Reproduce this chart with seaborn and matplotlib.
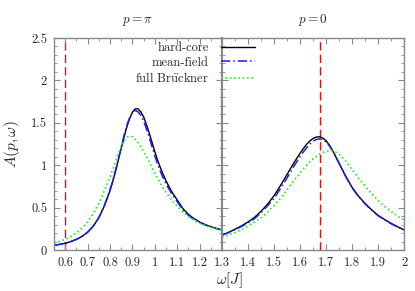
import matplotlib
matplotlib.use("Agg")
import matplotlib.pyplot as plt
import matplotlib.ticker as mticker
import seaborn as sns
import pandas as pd

# p = pi panel
w_pi = [0.55, 0.575, 0.6, 0.625, 0.65, 0.675, 0.7, 0.725, 0.75, 0.775, 0.8, 0.8125,
        0.825, 0.8375, 0.85, 0.8625, 0.875, 0.8875, 0.9, 0.9125, 0.925, 0.9375, 0.95,
        0.9625, 0.975, 0.9875, 1.0, 1.0125, 1.025, 1.0375, 1.05, 1.075, 1.1, 1.125,
        1.15, 1.175, 1.2, 1.225, 1.25, 1.275, 1.3]
hc_pi = [0.055, 0.066, 0.08, 0.099, 0.125, 0.16, 0.21, 0.28, 0.38, 0.52, 0.70, 0.81,
         0.93, 1.065, 1.20, 1.33, 1.45, 1.55, 1.625, 1.665, 1.665, 1.63, 1.57,
         1.48, 1.38, 1.27, 1.16, 1.06, 0.97, 0.89, 0.815, 0.69, 0.59, 0.49,
         0.42, 0.37, 0.33, 0.30, 0.275, 0.255, 0.237]
mf_pi = [0.055, 0.066, 0.08, 0.099, 0.125, 0.16, 0.21, 0.28, 0.38, 0.525, 0.71, 0.82,
         0.945, 1.08, 1.21, 1.35, 1.47, 1.56, 1.62, 1.645, 1.63, 1.59, 1.52,
         1.43, 1.33, 1.22, 1.11, 1.01, 0.925, 0.85, 0.78, 0.665, 0.57, 0.475,
         0.41, 0.36, 0.325, 0.295, 0.272, 0.252, 0.235]
fb_pi = [0.085, 0.102, 0.125, 0.158, 0.2, 0.26, 0.33, 0.43, 0.55, 0.70, 0.86, 0.955,
         1.05, 1.14, 1.22, 1.285, 1.33, 1.345, 1.335, 1.305, 1.265, 1.215, 1.16,
         1.10, 1.04, 0.97, 0.905, 0.845, 0.785, 0.73, 0.68, 0.59, 0.515, 0.45,
         0.395, 0.35, 0.315, 0.29, 0.267, 0.248, 0.23]

# p = 0 panel
w_0 = [1.3, 1.325, 1.35, 1.375, 1.4, 1.425, 1.45, 1.475, 1.5, 1.525, 1.55, 1.575,
       1.6, 1.6125, 1.625, 1.6375, 1.65, 1.6625, 1.675, 1.6875, 1.7, 1.7125, 1.725,
       1.7375, 1.75, 1.775, 1.8, 1.825, 1.85, 1.875, 1.9, 1.925, 1.95, 1.975, 2.0]
hc_0 = [0.175, 0.207, 0.245, 0.285, 0.33, 0.385, 0.455, 0.54, 0.64, 0.76, 0.89, 1.02,
        1.14, 1.195, 1.245, 1.285, 1.315, 1.332, 1.335, 1.32, 1.29, 1.24, 1.175,
        1.10, 1.025, 0.875, 0.74, 0.635, 0.55, 0.475, 0.41, 0.36, 0.315, 0.275, 0.237]
mf_0 = [0.175, 0.205, 0.24, 0.278, 0.32, 0.37, 0.44, 0.52, 0.61, 0.725, 0.85, 0.98,
        1.10, 1.155, 1.205, 1.25, 1.283, 1.303, 1.31, 1.30, 1.275, 1.23, 1.17,
        1.10, 1.025, 0.87, 0.735, 0.63, 0.545, 0.47, 0.405, 0.355, 0.31, 0.272, 0.235]
fb_0 = [0.15, 0.175, 0.205, 0.24, 0.285, 0.33, 0.38, 0.445, 0.525, 0.61, 0.71, 0.81,
        0.91, 0.955, 1.00, 1.04, 1.075, 1.105, 1.13, 1.15, 1.165, 1.172, 1.17,
        1.155, 1.13, 1.05, 0.95, 0.85, 0.755, 0.665, 0.585, 0.515, 0.455, 0.40, 0.355]

labels = ["hard-core", "mean-field", r"full Br$\ddot{\rm u}$ckner"]
marker_pi = 0.6
marker_0 = 1.675
xticks_pi = [0.6, 0.7, 0.8, 0.9, 1.0, 1.1, 1.2]
xticks_0 = [1.3, 1.4, 1.5, 1.6, 1.7, 1.8, 1.9, 2.0]
yticks = [0, 0.5, 1.0, 1.5, 2.0, 2.5]

sns.set_theme(style="ticks")
plt.rcParams["font.family"] = ["cmr10", "DejaVu Serif"]
plt.rcParams["mathtext.fontset"] = "cm"
plt.rcParams["axes.unicode_minus"] = False
plt.rcParams["axes.formatter.use_mathtext"] = True

styles = [
    dict(color="black", linestyle="-", linewidth=1.0),
    dict(color="#1a1aff", linestyle=(0, (6, 2, 1, 2)), linewidth=1.1),
    dict(color="#22ee22", linestyle=(0, (1, 1.6)), linewidth=1.2),
]

fig = plt.figure(figsize=(4.15, 2.91), dpi=100)
axl = fig.add_axes([54 / 415, 1 - 250 / 291, (222 - 54) / 415, 212 / 291])
axr = fig.add_axes([222 / 415, 1 - 250 / 291, (404 - 222) / 415, 212 / 291])

for ax, w, series in [(axl, w_pi, [hc_pi, mf_pi, fb_pi]), (axr, w_0, [hc_0, mf_0, fb_0])]:
    for ys, lab, st in zip(series, labels, styles):
        df = pd.DataFrame({"w": w, "A": ys})
        sns.lineplot(data=df, x="w", y="A", ax=ax, label=lab, **st)

axl.axvline(marker_pi, color="#e01010", linestyle=(0, (6, 3)), linewidth=1.0, zorder=0)
axr.axvline(marker_0, color="#e01010", linestyle=(0, (6, 3)), linewidth=1.0, zorder=0)

fmt = mticker.FuncFormatter(lambda v, _: f"{v:g}")
axl.set_xlim(0.55, 1.3)
axr.set_xlim(1.3, 2.0)
for ax in (axl, axr):
    ax.set_ylim(0, 2.5)
    ax.set_yticks(yticks)
    ax.yaxis.set_minor_locator(mticker.MultipleLocator(0.1))
    ax.xaxis.set_minor_locator(mticker.MultipleLocator(0.05))
    ax.set_xlabel("")
    ax.set_ylabel("")
    ax.tick_params(which="both", direction="in", top=True, right=True,
                   color="#888888", labelsize=9, pad=5)
    ax.tick_params(which="major", length=4, width=0.8)
    ax.tick_params(which="minor", length=2, width=0.6)
    for s in ax.spines.values():
        s.set_color("#888888")
        s.set_linewidth(1.0)
    if ax.get_legend():
        ax.get_legend().remove()

axl.set_xticks(xticks_pi)
axl.xaxis.set_major_formatter(fmt)
axl.yaxis.set_major_formatter(fmt)
axr.set_xticks(xticks_0)
axr.xaxis.set_major_formatter(fmt)
axr.tick_params(labelleft=False)
axl.spines["right"].set_linewidth(1.5)
axr.spines["left"].set_linewidth(1.5)

axl.set_title(r"$p = \pi$", fontsize=9.5, pad=11)
axr.set_title(r"$p = 0$", fontsize=9.5, pad=11)
fig.text(12 / 415, 1 - 144 / 291, r"$A(p,\omega)$", rotation=90,
         ha="center", va="center", fontsize=11)
fig.text(229 / 415, 1 - 280 / 291, r"$\omega[J]$", ha="center", va="center", fontsize=11)

handles, _ = axl.get_legend_handles_labels()
fig.legend(handles, labels, loc="upper right", bbox_to_anchor=(255 / 415, 1 - 42 / 291),
           frameon=False, markerfirst=False, fontsize=9, handlelength=2.7,
           handletextpad=1.0, labelspacing=0.2, borderpad=0, borderaxespad=0)

fig.savefig("out.png", dpi=100)
